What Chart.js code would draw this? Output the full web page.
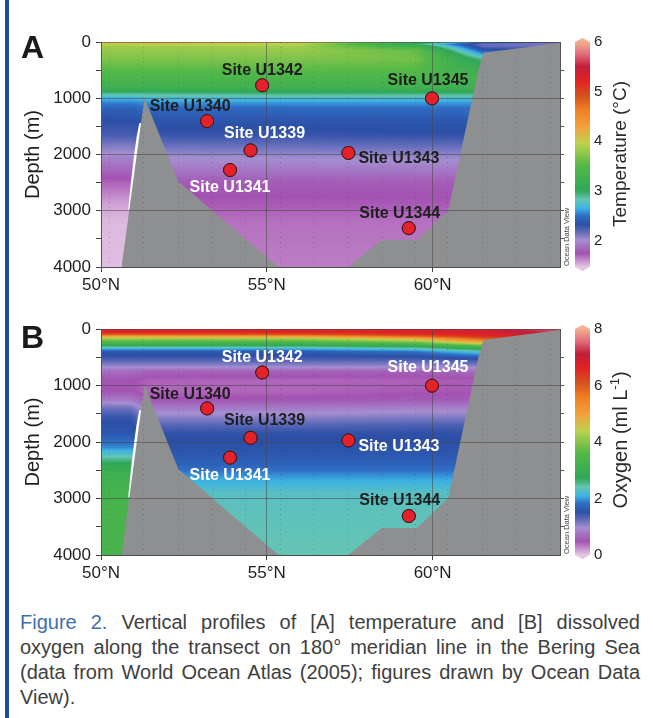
<!DOCTYPE html>
<html>
<head>
<meta charset="utf-8">
<script src="https://cdn.jsdelivr.net/npm/chart.js@4/dist/chart.umd.min.js"></script>
<style>
html,body{margin:0;padding:0;background:#fff;}
body{width:653px;height:718px;position:relative;overflow:hidden;}
#sidebar{position:absolute;left:5px;top:0;width:4px;height:718px;background:#1d4d9d;}
.panel{position:absolute;left:0;width:653px;height:300px;}
.panel canvas{display:block;}
#panelA{top:0;}
#panelB{top:288px;}
#caption{position:absolute;left:20px;top:610px;width:620px;font-family:'Liberation Sans',Arial,sans-serif;font-size:20px;line-height:25px;color:#404040;}
#caption .j{text-align:justify;text-align-last:justify;}
#caption .fig{color:#3f6db4;}
</style>
</head>
<body>
<div id="sidebar"></div>
<div class="panel" id="panelA"><canvas id="chartA" width="653" height="300"></canvas></div>
<div class="panel" id="panelB"><canvas id="chartB" width="653" height="300"></canvas></div>
<div id="caption">
<div class="j"><span class="fig">Figure 2.</span> Vertical profiles of [A] temperature and [B] dissolved</div>
<div class="j">oxygen along the transect on 180° meridian line in the Bering Sea</div>
<div class="j">(data from World Ocean Atlas (2005); figures drawn by Ocean Data</div>
<div>View).</div>
</div>
<script>
const FONT = "'Liberation Sans', Arial, sans-serif";

// ---- axes / ticks ----
const latTicks = [50, 55, 60];
const distanceGridLat = [50.27, 51.29, 52.34, 53.35, 54.36, 55.41, 56.42, 57.43, 58.49, 59.49, 60.46, 61.49, 62.52, 63.55];
const depthTicks = [0, 1000, 2000, 3000, 4000];
const depthMinorTicks = [500, 1500, 2500, 3500];
const tempTicks = [2, 3, 4, 5, 6];
const oxyTicks = [0, 2, 4, 6, 8];
const latMin = 50, latMax = 63.84, depthMin = 0, depthMax = 4000;
const tempMin = 1.47, tempMax = 6;
const oxyMin = 0, oxyMax = 8;

// ---- sites ----
const siteNames = ['U1339', 'U1340', 'U1341', 'U1342', 'U1343', 'U1344', 'U1345'];
const siteLat   = [54.51, 53.20, 53.89, 54.86, 57.46, 59.28, 59.98];
const siteDepth = [1926, 1406, 2276, 770, 1972, 3310, 1003];
const siteLabelColorA = ['w', 'd', 'w', 'd', 'd', 'd', 'd'];
const siteLabelColorB = ['d', 'd', 'w', 'w', 'w', 'd', 'w'];

// ---- seafloor ----
const bathyLat   = [50.62, 51.31, 52.33, 55.35, 57.46, 58.46, 59.52, 60.47, 61.38, 61.53, 63.84, 63.84];
const bathyDepth = [4000, 991, 2480, 4000, 4000, 3520, 3520, 2995, 496, 193, 17, 4000];
// no-data sliver west of the ridge
const gapLat   = [50.82, 50.90, 51.00, 51.07, 51.14, 51.16, 51.30, 51.30];
const gapDepth = [2980, 2500, 2000, 1700, 1480, 1440, 1440, 2980];

// ---- gridded section profiles (columns at fieldLats) ----
const fieldLats = [50.0, 50.9, 51.4, 56.0, 59.5, 61.5, 63.84];

const tempDepths  = [0, 15, 40, 80, 150, 300, 600, 800, 900, 980, 1080, 1200, 1400, 1650, 1850, 2000, 2200, 2500, 2900, 3200, 4000];
const tempWest    = [4.5, 4.1, 3.95, 3.85, 3.8, 3.7, 3.45, 3.25, 2.95, 2.7, 2.55, 2.42, 2.33, 2.25, 2.1, 2.0, 1.88, 1.7, 1.55, 1.5, 1.49];
const tempCentral = [4.6, 4.15, 4.0, 3.85, 3.8, 3.7, 3.45, 3.25, 2.95, 2.75, 2.58, 2.45, 2.36, 2.3, 2.15, 2.05, 1.95, 1.78, 1.72, 1.67, 1.64];
const tempMid     = [4.4, 4.0, 3.95, 3.85, 3.8, 3.7, 3.45, 3.28, 3.0, 2.77, 2.6, 2.46, 2.37, 2.3, 2.16, 2.06, 1.95, 1.78, 1.72, 1.67, 1.64];
const tempEast    = [3.4, 3.2, 2.95, 3.3, 3.6, 3.65, 3.45, 3.28, 3.0, 2.77, 2.6, 2.47, 2.38, 2.31, 2.17, 2.07, 1.96, 1.79, 1.72, 1.67, 1.64];
const tempSlope   = [2.6, 2.3, 2.15, 2.2, 2.4, 2.9, 3.3, 3.25, 3.0, 2.77, 2.6, 2.47, 2.38, 2.31, 2.17, 2.07, 1.96, 1.79, 1.72, 1.67, 1.64];
const tempShelf   = [2.3, 2.15, 2.1, 2.15, 2.3, 2.9, 3.3, 3.25, 3.0, 2.77, 2.6, 2.47, 2.38, 2.31, 2.17, 2.07, 1.96, 1.79, 1.72, 1.67, 1.64];

const oxyDepths  = [0, 60, 100, 130, 170, 240, 290, 340, 400, 480, 560, 650, 750, 900, 1100, 1250, 1400, 1550, 1700, 1850, 2100, 2400, 2550, 2700, 2900, 3200, 4000];
const oxyWest    = [6.7, 6.6, 5.9, 5.0, 4.2, 3.4, 2.8, 2.2, 1.6, 1.5, 1.3, 1.05, 0.7, 0.5, 0.5, 0.8, 1.2, 1.45, 1.55, 1.6, 1.95, 2.8, 3.1, 3.2, 3.3, 3.35, 3.35];
const oxyCentral = [6.7, 6.6, 5.9, 5.0, 4.2, 3.4, 2.8, 2.2, 1.6, 1.5, 1.3, 1.05, 0.62, 0.42, 0.38, 0.5, 0.8, 1.05, 1.3, 1.5, 1.55, 1.7, 1.9, 2.1, 2.3, 2.35, 2.4];
const oxyMid     = [6.7, 6.6, 6.0, 5.1, 4.2, 3.4, 2.8, 2.2, 1.65, 1.5, 1.3, 1.05, 0.6, 0.4, 0.4, 0.5, 0.8, 1.05, 1.3, 1.5, 1.55, 1.7, 1.9, 2.1, 2.3, 2.35, 2.4];
const oxyEast    = [6.8, 6.7, 6.4, 5.9, 4.8, 3.8, 3.1, 2.4, 1.85, 1.55, 1.3, 1.05, 0.6, 0.42, 0.45, 0.55, 0.85, 1.1, 1.35, 1.5, 1.55, 1.7, 1.9, 2.1, 2.3, 2.35, 2.4];
const oxySlope   = [6.9, 6.8, 6.7, 6.5, 6.0, 4.8, 3.8, 3.0, 2.3, 1.8, 1.4, 1.1, 0.7, 0.45, 0.45, 0.55, 0.85, 1.1, 1.35, 1.5, 1.55, 1.7, 1.9, 2.1, 2.3, 2.35, 2.4];
const oxyShelf   = [7.5, 7.3, 7.1, 6.9, 6.6, 5.5, 4.5, 3.5, 2.6, 2.0, 1.5, 1.1, 0.7, 0.45, 0.45, 0.55, 0.85, 1.1, 1.35, 1.5, 1.55, 1.7, 1.9, 2.1, 2.3, 2.35, 2.4];

// ---- colour palette (ODV style) ----
const paletteStops  = [0, 0.06, 0.12, 0.16, 0.19, 0.23, 0.26, 0.30, 0.34, 0.45, 0.55, 0.62, 0.70, 0.76, 0.83, 0.89, 0.95, 1];
const paletteColors = ['#e4c6e4', '#a452b2', '#a48ed0', '#5a68b8', '#2c4fa6', '#3070c8', '#3cb2e4', '#64c4b4', '#30a858', '#52b848', '#bcd24e', '#f2a23e', '#f07e22', '#d4521e', '#e22222', '#c21e3c', '#e27080', '#f4ae8e'];
const paletteRGB = paletteColors.map(h => [parseInt(h.slice(1, 3), 16), parseInt(h.slice(3, 5), 16), parseInt(h.slice(5, 7), 16)]);

function cmap(t) {
  t = Math.max(0, Math.min(1, t));
  let k = 0;
  while (k < paletteStops.length - 2 && t > paletteStops[k + 1]) k++;
  const f = (t - paletteStops[k]) / (paletteStops[k + 1] - paletteStops[k]);
  const a = paletteRGB[k], b = paletteRGB[k + 1];
  return [a[0] + (b[0] - a[0]) * f, a[1] + (b[1] - a[1]) * f, a[2] + (b[2] - a[2]) * f];
}
function profileAt(depths, col, d) {
  if (d <= depths[0]) return col[0];
  for (let k = 1; k < depths.length; k++) {
    if (d <= depths[k]) {
      const f = (d - depths[k - 1]) / (depths[k] - depths[k - 1]);
      return col[k - 1] + f * (col[k] - col[k - 1]);
    }
  }
  return col[col.length - 1];
}

function fieldPlugin(spec) {
  return {
    id: 'field' + spec.id,
    beforeDatasetsDraw(chart) {
      const {left, top, right, bottom} = chart.chartArea;
      const x0 = Math.floor(left), y0 = Math.floor(top);
      const w = Math.ceil(right) - x0, h = Math.ceil(bottom) - y0;
      const xs = chart.scales.x, ys = chart.scales.y;
      const off = document.createElement('canvas');
      off.width = w; off.height = h;
      const octx = off.getContext('2d');
      const img = octx.createImageData(w, h);
      const nL = fieldLats.length;
      const bi = new Int32Array(w), bf = new Float32Array(w);
      for (let i = 0; i < w; i++) {
        const lat = xs.getValueForPixel(x0 + i + 0.5);
        let k = 0;
        while (k < nL - 2 && lat > fieldLats[k + 1]) k++;
        const f = (lat - fieldLats[k]) / (fieldLats[k + 1] - fieldLats[k]);
        bi[i] = k; bf[i] = Math.max(0, Math.min(1, f));
      }
      const cv = new Float32Array(nL);
      for (let j = 0; j < h; j++) {
        const d = ys.getValueForPixel(y0 + j + 0.5);
        for (let c = 0; c < nL; c++) cv[c] = profileAt(spec.depths, spec.cols[c], d);
        for (let i = 0; i < w; i++) {
          const k = bi[i], f = bf[i];
          const v = cv[k] + (cv[k + 1] - cv[k]) * f;
          const rgb = cmap((v - spec.min) / (spec.max - spec.min));
          const p = (j * w + i) * 4;
          img.data[p] = rgb[0]; img.data[p + 1] = rgb[1]; img.data[p + 2] = rgb[2]; img.data[p + 3] = 255;
        }
      }
      octx.putImageData(img, 0, 0);
      chart.ctx.drawImage(off, x0, y0);
    }
  };
}

const siteLabelOffsets = [
  [14, -17, 'center'],  // U1339
  [-17, -14, 'center'], // U1340
  [0, 18, 'center'],    // U1341
  [0, -15, 'center'],   // U1342
  [10, 6, 'left'],      // U1343
  [-9, -15, 'center'],  // U1344
  [-4, -18, 'center']   // U1345
];

function decorPlugin(spec) {
  return {
    id: 'decor' + spec.id,
    afterDraw(chart) {
      const ctx = chart.ctx;
      const meta = chart.getDatasetMeta(0);
      meta.data.forEach(el => el.draw(ctx, chart.chartArea));
      ctx.save();
      ctx.font = 'bold 16px ' + FONT;
      ctx.textBaseline = 'middle';
      siteNames.forEach((n, i) => {
        const o = siteLabelOffsets[i];
        ctx.textAlign = o[2];
        ctx.fillStyle = spec.labelColors[i] === 'w' ? '#ffffff' : '#1e1e1e';
        ctx.fillText('Site ' + n, meta.data[i].x + o[0], meta.data[i].y + o[1]);
      });
      // colour bar
      const cb = chart.scales.cbar;
      const bx = cb.left + 5, bw = 15;
      const yTop = cb.getPixelForValue(spec.max), yBot = cb.getPixelForValue(spec.min);
      for (let y = Math.floor(yTop); y < Math.ceil(yBot); y++) {
        const v = cb.getValueForPixel(y + 0.5);
        const c = cmap((v - spec.min) / (spec.max - spec.min));
        ctx.fillStyle = 'rgb(' + c.map(Math.round).join(',') + ')';
        ctx.fillRect(bx, y, bw, 1);
      }
      let c = cmap(1);
      ctx.fillStyle = 'rgb(' + c.map(Math.round).join(',') + ')';
      ctx.beginPath(); ctx.moveTo(bx, Math.floor(yTop)); ctx.lineTo(bx + bw / 2, Math.floor(yTop) - 4); ctx.lineTo(bx + bw, Math.floor(yTop)); ctx.closePath(); ctx.fill();
      c = cmap(0);
      ctx.fillStyle = 'rgb(' + c.map(Math.round).join(',') + ')';
      ctx.beginPath(); ctx.moveTo(bx, Math.ceil(yBot)); ctx.lineTo(bx + bw / 2, Math.ceil(yBot) + 4); ctx.lineTo(bx + bw, Math.ceil(yBot)); ctx.closePath(); ctx.fill();
      // colour bar title (reads bottom to top)
      ctx.save();
      ctx.translate(621, spec.titleY);
      ctx.rotate(-Math.PI / 2);
      ctx.fillStyle = '#2a2a2a';
      ctx.textBaseline = 'middle';
      ctx.font = spec.titleSize + 'px ' + FONT;
      if (!spec.titleSup) {
        ctx.textAlign = 'center';
        ctx.fillText(spec.title, 0, 0);
      } else {
        const wMain = ctx.measureText(spec.title).width;
        const wTail = ctx.measureText(spec.titleTail).width;
        ctx.font = Math.round(spec.titleSize * 0.65) + 'px ' + FONT;
        const wSup = ctx.measureText(spec.titleSup).width;
        let x = -(wMain + wSup + wTail) / 2;
        ctx.textAlign = 'left';
        ctx.font = spec.titleSize + 'px ' + FONT;
        ctx.fillText(spec.title, x, 0); x += wMain;
        ctx.font = Math.round(spec.titleSize * 0.65) + 'px ' + FONT;
        ctx.fillText(spec.titleSup, x, -6); x += wSup;
        ctx.font = spec.titleSize + 'px ' + FONT;
        ctx.fillText(spec.titleTail, x, 0);
      }
      ctx.restore();
      // Ocean Data View stamp
      ctx.save();
      ctx.translate(566.5, chart.chartArea.bottom);
      ctx.rotate(-Math.PI / 2);
      ctx.font = '7.5px ' + FONT;
      ctx.fillStyle = '#444';
      ctx.textAlign = 'left';
      ctx.textBaseline = 'middle';
      ctx.fillText('Ocean Data View', 1, 0);
      ctx.restore();
      // panel letter
      ctx.font = 'bold 32px ' + FONT;
      ctx.fillStyle = '#1a1a1a';
      ctx.textAlign = 'left';
      ctx.textBaseline = 'alphabetic';
      ctx.fillText(spec.letter, 21, spec.letterY);
      ctx.restore();
    }
  };
}

function makeChart(canvasId, spec) {
  const gridColor = 'rgba(70,70,70,0.55)';
  const tickFont = {family: FONT, size: 17};
  const allDepthTicks = depthTicks.concat(depthMinorTicks).sort((a, b) => a - b);
  return new Chart(document.getElementById(canvasId), {
    type: 'scatter',
    data: {
      datasets: [
        {
          label: 'Sites', xAxisID: 'x', yAxisID: 'y',
          data: siteLat.map((x, i) => ({x: x, y: siteDepth[i]})),
          pointRadius: 6.5, pointHoverRadius: 6.5,
          backgroundColor: '#e5222b', borderColor: '#3b1a1a', borderWidth: 1, order: 0
        },
        {
          type: 'line', label: 'Seafloor', xAxisID: 'x', yAxisID: 'y',
          data: bathyLat.map((x, i) => ({x: x, y: bathyDepth[i]})),
          borderWidth: 0, borderColor: 'rgba(0,0,0,0)', backgroundColor: '#8e8f91',
          pointRadius: 0, fill: {value: depthMax}, tension: 0, order: 1
        },
        {
          type: 'line', label: 'No data', xAxisID: 'x', yAxisID: 'y',
          data: gapLat.map((x, i) => ({x: x, y: gapDepth[i]})),
          borderWidth: 0, borderColor: 'rgba(0,0,0,0)', backgroundColor: '#ffffff',
          pointRadius: 0, fill: 'shape', tension: 0, order: 2
        }
      ]
    },
    options: {
      responsive: false, animation: false, devicePixelRatio: 1, events: [],
      layout: {padding: {top: spec.padTop, left: 0, right: 0, bottom: 0}, autoPadding: false},
      plugins: {legend: {display: false}, tooltip: {enabled: false}},
      scales: {
        x: {
          type: 'linear', position: 'bottom', min: latMin, max: latMax,
          afterBuildTicks: s => { s.ticks = latTicks.map(v => ({value: v})); },
          afterFit: s => { s.height = 30; },
          ticks: {callback: v => v + '°N', font: tickFont, color: '#1e1e1e', padding: 3, maxRotation: 0, autoSkip: false},
          grid: {color: gridColor, lineWidth: 1, tickLength: 5, tickColor: '#444', z: 1},
          border: {display: true, color: '#555', z: 1}
        },
        xd: {
          type: 'linear', position: 'top', min: latMin, max: latMax,
          afterBuildTicks: s => { s.ticks = distanceGridLat.map(v => ({value: v})); },
          afterFit: s => { s.height = 0; },
          ticks: {display: false},
          grid: {color: 'rgba(60,60,60,0.28)', lineWidth: 1, drawTicks: false, z: 1},
          border: {display: false, dash: [1, 4]}
        },
        y: {
          type: 'linear', position: 'left', reverse: true, min: depthMin, max: depthMax,
          afterBuildTicks: s => { s.ticks = allDepthTicks.map(v => ({value: v})); },
          afterFit: s => { s.width = 101; },
          ticks: {callback: v => depthTicks.includes(v) ? String(v) : '', font: tickFont, color: '#1e1e1e', padding: 5, autoSkip: false},
          grid: {color: c => (c.tick && depthTicks.includes(c.tick.value)) ? gridColor : 'rgba(0,0,0,0)', lineWidth: 1, tickLength: 5, tickColor: '#444', z: 1},
          border: {display: true, color: '#555', z: 1},
          title: {display: true, text: 'Depth (m)', font: {family: FONT, size: 20}, color: '#1e1e1e', padding: {top: 21, bottom: 0}}
        },
        y2: {
          type: 'linear', position: 'right', reverse: true, min: depthMin, max: depthMax, weight: 0,
          afterBuildTicks: s => { s.ticks = allDepthTicks.filter(v => v > depthMin && v < depthMax).map(v => ({value: v})); },
          afterFit: s => { s.width = 10; },
          ticks: {display: false},
          grid: {drawOnChartArea: false, drawTicks: true, tickLength: 4, tickColor: '#555', z: 1},
          border: {display: true, color: '#555', z: 1}
        },
        cbar: {
          type: 'linear', position: 'right', min: spec.min, max: spec.max, weight: 1,
          afterBuildTicks: s => { s.ticks = spec.ticks.map(v => ({value: v})); },
          afterFit: s => { s.width = 83; },
          ticks: {callback: v => String(v), font: {family: FONT, size: 15}, color: '#222', padding: 24},
          grid: {display: false, drawTicks: false},
          border: {display: false}
        }
      }
    },
    plugins: [fieldPlugin(spec), decorPlugin(spec)]
  });
}

makeChart('chartA', {
  id: 'A', letter: 'A', letterY: 58, padTop: 42,
  depths: tempDepths,
  cols: [tempWest, tempWest, tempCentral, tempMid, tempEast, tempSlope, tempShelf],
  min: tempMin, max: tempMax, ticks: tempTicks,
  title: 'Temperature (°C)', titleSize: 19, titleY: 154,
  labelColors: siteLabelColorA
});
makeChart('chartB', {
  id: 'B', letter: 'B', letterY: 60, padTop: 41,
  depths: oxyDepths,
  cols: [oxyWest, oxyWest, oxyCentral, oxyMid, oxyEast, oxySlope, oxyShelf],
  min: oxyMin, max: oxyMax, ticks: oxyTicks,
  title: 'Oxygen (ml L', titleSup: '-1', titleTail: ')', titleSize: 20, titleY: 152,
  labelColors: siteLabelColorB
});
</script>
</body>
</html>
